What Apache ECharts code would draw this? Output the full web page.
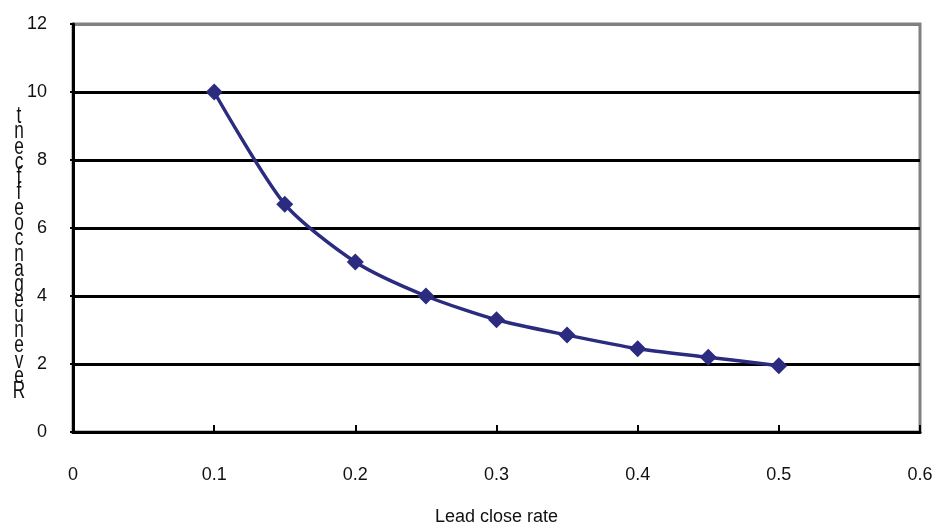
<!DOCTYPE html>
<html>
<head>
<meta charset="utf-8">
<script src="https://cdn.jsdelivr.net/npm/echarts@6/dist/echarts.min.js"></script>
<style>html,body{margin:0;padding:0;background:#fff}#c{width:940px;height:527px}</style>
</head>
<body>
<div id="c"></div>
<script>
const closeRates = [0.1, 0.15, 0.2, 0.25, 0.3, 0.35, 0.4, 0.45, 0.5];
const revenueChange = [10, 6.7, 5, 4, 3.3, 2.85, 2.45, 2.2, 1.95];
const xAxisName = 'Lead close rate';
const yAxisChars = ['t','n','e','c','f','f','e','o','c','n','a','g','e','u','n','e','v','e','R'];

const chart = echarts.init(document.getElementById('c'));
const font = '"Liberation Sans", Arial, sans-serif';
chart.setOption({
  animation: false,
  backgroundColor: '#fff',
  grid: { left: 73, right: 20, top: 24, bottom: 95, outerBoundsMode: 'none', containLabel: false, show: true, borderColor: '#808080', borderWidth: 3, backgroundColor: 'transparent' },
  xAxis: {
    type: 'value', min: 0, max: 0.6, interval: 0.1,
    name: xAxisName, nameLocation: 'middle', nameGap: 76,
    nameTextStyle: { color: '#111', fontSize: 18, fontFamily: font },
    axisLine: { show: true, onZero: false, lineStyle: { color: '#000', width: 3 } },
    axisTick: { show: true, inside: true, length: 7, lineStyle: { color: '#000', width: 2 } },
    axisLabel: { color: '#111', fontSize: 18, fontFamily: font, margin: 34 },
    splitLine: { show: false }
  },
  yAxis: {
    type: 'value', min: 0, max: 12, interval: 2,
    axisLine: { show: true, onZero: false, lineStyle: { color: '#000', width: 3 } },
    axisTick: { show: true, length: 3, lineStyle: { color: '#000', width: 2 } },
    axisLabel: { color: '#111', fontSize: 18, fontFamily: font, margin: 26 },
    splitLine: { show: true, lineStyle: { color: ['#000','#000','#000','#000','#000','#000','#808080'], width: 3 } }
  },
  graphic: [{
    type: 'text', x: 19, y: 109, scaleX: 0.75,
    style: { text: yAxisChars.join('\n'), fontSize: 23, lineHeight: 15.3, fontFamily: font, fill: '#111', align: 'center' }
  }],
  series: [{
    type: 'line', smooth: 0.25,
    data: closeRates.map((x, i) => [x, revenueChange[i]]),
    symbol: 'diamond', symbolSize: 17,
    lineStyle: { color: '#2B2B80', width: 3.5 },
    itemStyle: { color: '#2B2B80' }
  }]
});
</script>
</body>
</html>
